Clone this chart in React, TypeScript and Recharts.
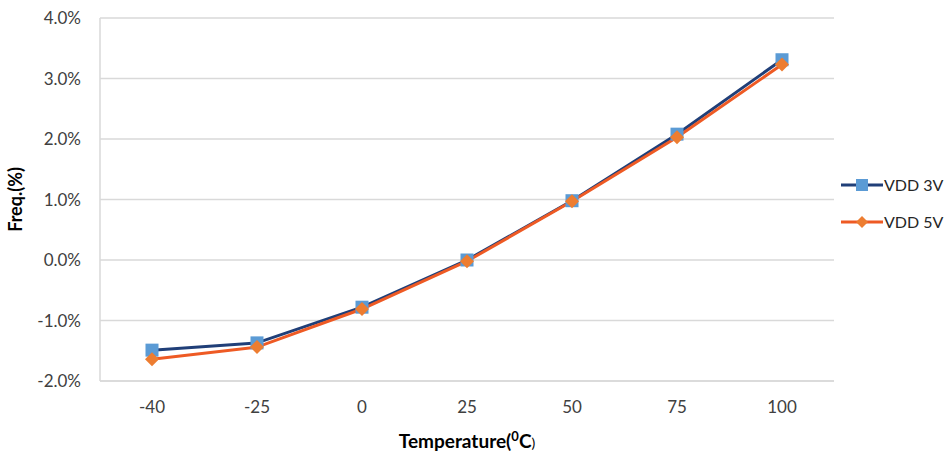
import {
  CartesianGrid,
  Label,
  Legend,
  Line,
  LineChart,
  XAxis,
  YAxis,
} from 'recharts';

const temps = ['-40', '-25', '0', '25', '50', '75', '100'];
const vdd3v = [-1.49, -1.37, -0.78, 0.0, 0.98, 2.08, 3.31];
const vdd5v = [-1.64, -1.44, -0.81, -0.02, 0.97, 2.03, 3.23];
const yTicks = [-2, -1, 0, 1, 2, 3, 4];

const data = temps.map((t, i) => ({ t, v3: vdd3v[i], v5: vdd5v[i] }));

const FONT = 'Lato, "Open Sans", sans-serif';
const C3_LINE = '#203f78';
const C3_DOT = '#5b9bd5';
const C5_LINE = '#ee5a24';
const C5_DOT = '#ed7d31';

function SquareDot(props: any) {
  const { cx, cy } = props;
  if (cx == null || cy == null) return null;
  return <rect x={cx - 6.5} y={cy - 6.5} width={13} height={13} fill={C3_DOT} />;
}

function DiamondDot(props: any) {
  const { cx, cy } = props;
  if (cx == null || cy == null) return null;
  return (
    <path
      d={`M${cx},${cy - 7} L${cx + 7},${cy} L${cx},${cy + 7} L${cx - 7},${cy} Z`}
      fill={C5_DOT}
    />
  );
}

function LegendBox() {
  const items = [
    { name: 'VDD 3V', line: C3_LINE, dot: 'square' },
    { name: 'VDD 5V', line: C5_LINE, dot: 'diamond' },
  ];
  return (
    <svg width={105} height={60}>
      {items.map((it, i) => {
        const y = 13 + i * 37;
        return (
          <g key={it.name}>
            <line x1={0} x2={42} y1={y} y2={y} stroke={it.line} strokeWidth={3} />
            {it.dot === 'square' ? (
              <rect x={15} y={y - 6} width={12} height={12} fill={C3_DOT} />
            ) : (
              <path d={`M21,${y - 6} L27,${y} L21,${y + 6} L15,${y} Z`} fill={C5_DOT} />
            )}
            <text x={43} y={y + 6} fontSize={16} fill="#262626" fontFamily={FONT}>
              {it.name}
            </text>
          </g>
        );
      })}
    </svg>
  );
}

function XTitle(props: any) {
  const vb = props.viewBox || {};
  const cx = vb.x + vb.width / 2;
  const y = 448;
  return (
    <text x={cx} y={y} textAnchor="middle" fontFamily={FONT} fontWeight={700} fontSize={19} fill="#000">
      Temperature(
      <tspan fontSize={13} dy={-7}>0</tspan>
      <tspan dy={7}>C</tspan>
      <tspan fontSize={14} fontWeight={400}>)</tspan>
    </text>
  );
}

export default function App() {
  return (
    <div style={{ position: 'absolute', left: 0, top: 0, background: '#fff' }}>
      <LineChart
        width={947}
        height={455}
        data={data}
        margin={{ top: 18, right: 113, bottom: 0, left: 0 }}
      >
        <CartesianGrid vertical={false} stroke="#d9d9d9" strokeWidth={1.5} />
        <XAxis
          dataKey="t"
          height={74}
          padding={{ left: 52, right: 52 }}
          tickSize={0}
          tickMargin={20}
          axisLine={{ stroke: '#d9d9d9', strokeWidth: 1.5 }}
          tick={{ fontSize: 17, fill: '#404040', fontFamily: FONT }}
        >
          <Label content={<XTitle />} />
        </XAxis>
        <YAxis
          width={100}
          domain={[-2, 4]}
          ticks={yTicks}
          tickSize={0}
          tickMargin={19}
          axisLine={{ stroke: '#d9d9d9', strokeWidth: 1.5 }}
          tickFormatter={(v: number) => `${v.toFixed(1)}%`}
          tick={{ fontSize: 17, fill: '#404040', fontFamily: FONT }}
        >
          <Label
            value="Freq.(%)"
            angle={-90}
            position="insideLeft"
            offset={16}
            textAnchor="middle"
            style={{ fontFamily: FONT, fontWeight: 700, fontSize: 18, fill: '#000', textAnchor: 'middle' }}
          />
        </YAxis>
        <YAxis
          yAxisId="r"
          orientation="right"
          width={0}
          tick={false}
          tickSize={0}
          domain={[-2, 4]}
          axisLine={{ stroke: '#d9d9d9', strokeWidth: 1.5 }}
        />
        <Legend
          layout="vertical"
          align="center"
          verticalAlign="middle"
          wrapperStyle={{ left: 841, top: 172, width: 106 }}
          content={() => <LegendBox />}
        />
        <Line
          dataKey="v3"
          name="VDD 3V"
          stroke={C3_LINE}
          strokeWidth={3}
          dot={<SquareDot />}
          activeDot={false}
          isAnimationActive={false}
        />
        <Line
          dataKey="v5"
          name="VDD 5V"
          stroke={C5_LINE}
          strokeWidth={3}
          dot={<DiamondDot />}
          activeDot={false}
          isAnimationActive={false}
        />
      </LineChart>
    </div>
  );
}
